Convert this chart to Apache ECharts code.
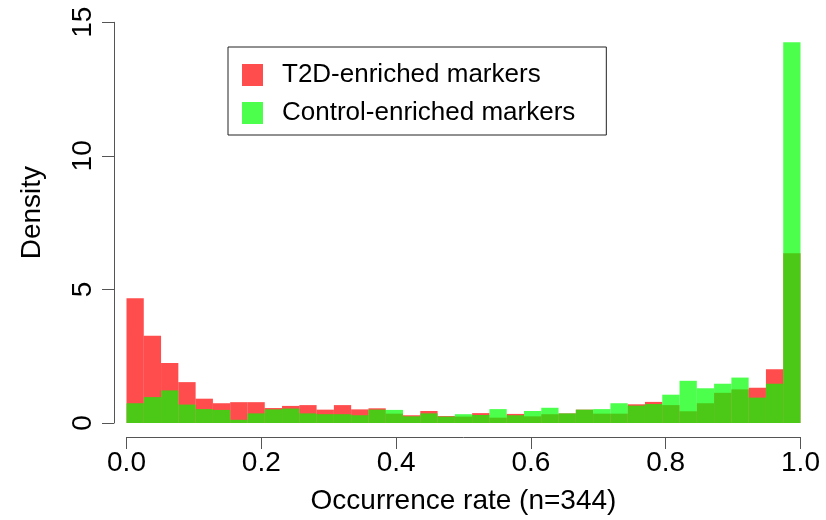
<!DOCTYPE html>
<html>
<head>
<meta charset="utf-8">
<script src="https://cdn.jsdelivr.net/npm/echarts@6/dist/echarts.min.js"></script>
<style>
html,body{margin:0;padding:0;background:#fff;}
#chart{width:826px;height:520px;}
</style>
</head>
<body>
<div id="chart"></div>
<script>
// Histogram: 39 equal bins over [0, 1]
const binCount = 39;
const xTicks = [0, 0.2, 0.4, 0.6, 0.8, 1.0];
const yTicks = [0, 5, 10, 15];
const seriesNames = ['T2D-enriched markers', 'Control-enriched markers'];
const t2dDensity = [4.67, 3.27, 2.25, 1.53, 0.91, 0.74, 0.78, 0.78, 0.56, 0.64,
  0.67, 0.50, 0.67, 0.51, 0.55, 0.35, 0.29, 0.45, 0.26, 0.24,
  0.37, 0.20, 0.34, 0.25, 0.33, 0.36, 0.50, 0.35, 0.35, 0.70,
  0.79, 0.67, 0.44, 0.74, 1.13, 1.26, 1.32, 2.01, 6.35];
const controlDensity = [0.74, 0.97, 1.22, 0.69, 0.52, 0.49, 0.12, 0.36, 0.51, 0.54,
  0.36, 0.33, 0.33, 0.29, 0.50, 0.49, 0.25, 0.36, 0.24, 0.33,
  0.30, 0.52, 0.29, 0.45, 0.57, 0.36, 0.50, 0.52, 0.74, 0.65,
  0.71, 1.06, 1.58, 1.30, 1.47, 1.70, 0.95, 1.47, 14.25];

const FONT = "'Liberation Sans', Arial, Helvetica, sans-serif";

function toBins(vals) {
  return vals.map((v, i) => [i / binCount, (i + 1) / binCount, v]);
}
function makeRender(color) {
  return function (params, api) {
    const p0 = api.coord([api.value(0), api.value(2)]);
    const p1 = api.coord([api.value(1), 0]);
    return {
      type: 'rect',
      shape: { x: p0[0], y: p0[1], width: p1[0] - p0[0], height: p1[1] - p0[1] },
      style: { fill: color }
    };
  };
}
const redCol = 'rgba(255,0,0,0.7)';
const greenCol = 'rgba(0,255,0,0.7)';

const chart = echarts.init(document.getElementById('chart'), null, { renderer: 'canvas' });
chart.setOption({
  animation: false,
  backgroundColor: '#ffffff',
  textStyle: { fontFamily: FONT },
  grid: { left: 126.5, right: 25.5, top: 22.3, bottom: 97, containLabel: false },
  legend: {
    data: seriesNames,
    orient: 'vertical',
    left: 228, top: 47,
    icon: 'rect',
    itemWidth: 21, itemHeight: 22, itemGap: 12,
    borderColor: '#222', borderWidth: 1, borderRadius: 0,
    padding: [15, 31, 9, 14],
    selectedMode: false,
    textStyle: { fontSize: 26, color: '#000', fontFamily: FONT, padding: [0, 0, 0, 14] }
  },
  xAxis: {
    type: 'value', min: 0, max: 1, interval: 0.2,
    offset: 14,
    name: 'Occurrence rate (n=344)', nameLocation: 'middle', nameGap: 50,
    nameTextStyle: { fontSize: 28, color: '#000', fontFamily: FONT },
    axisLine: { show: true, onZero: false, lineStyle: { color: '#555', width: 1 } },
    axisTick: { show: true, length: 12, lineStyle: { color: '#555' } },
    axisLabel: { fontSize: 28, color: '#000', margin: 12, fontFamily: FONT,
      formatter: v => v.toFixed(1) },
    splitLine: { show: false }
  },
  yAxis: {
    type: 'value', min: 0, max: 15, interval: 5,
    offset: 12.5,
    name: 'Density', nameLocation: 'middle', nameGap: 68,
    nameTextStyle: { fontSize: 28, color: '#000', fontFamily: FONT, padding: [0, 0, 0, 20] },
    axisLine: { show: true, onZero: false, lineStyle: { color: '#555', width: 1 } },
    axisTick: { show: true, length: 12, lineStyle: { color: '#555' } },
    axisLabel: { fontSize: 28, color: '#000', rotate: 90, margin: 17, fontFamily: FONT },
    splitLine: { show: false }
  },
  series: [
    { name: seriesNames[0], type: 'custom', renderItem: makeRender(redCol),
      itemStyle: { color: redCol }, encode: { x: [0, 1], y: 2 }, data: toBins(t2dDensity) },
    { name: seriesNames[1], type: 'custom', renderItem: makeRender(greenCol),
      itemStyle: { color: greenCol }, encode: { x: [0, 1], y: 2 }, data: toBins(controlDensity) }
  ]
});
</script>
</body>
</html>
